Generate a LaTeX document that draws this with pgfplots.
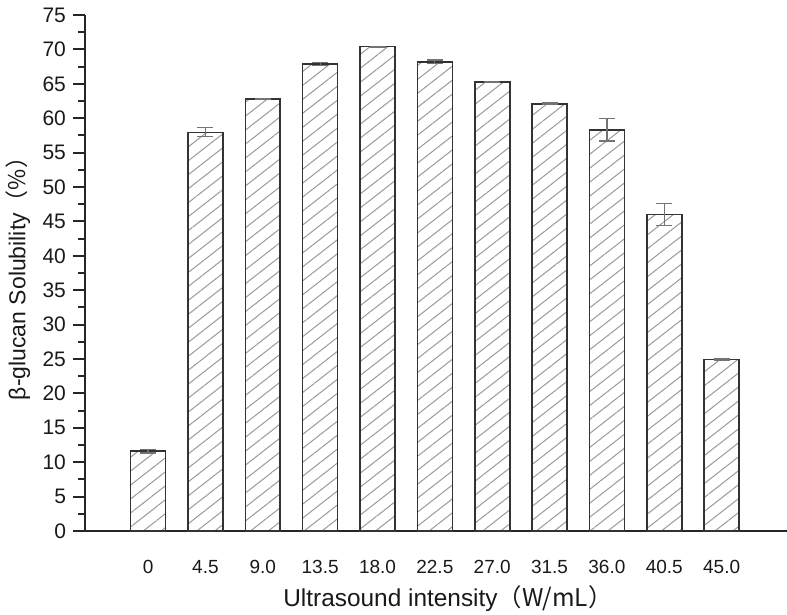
\documentclass[border=0pt]{standalone}
\usepackage{fontspec}
\setmainfont{Liberation Sans}
\newfontfamily\cjk{Noto Sans CJK SC}
\usepackage{pgfplots}
\pgfplotsset{compat=1.18}
\usetikzlibrary{patterns.meta}
\begin{document}
\begin{tikzpicture}
\begin{axis}[
  name=ax,
  scale only axis,
  width=351pt, height=258pt,
  xmin=-1.1, xmax=11.14,
  ymin=0, ymax=75,
  axis x line=bottom, axis y line=left,
  axis line style={-, line width=1pt, black!85},
  ytick={0,5,...,75},
  minor y tick num=1,
  tick align=outside,
  major tick length=6pt, minor tick length=3.5pt,
  every tick/.style={line width=1pt, black!85},
  xtick={0,...,10},
  xticklabels={0,4.5,9.0,13.5,18.0,22.5,27.0,31.5,36.0,40.5,45.0},
  xtick style={draw=none},
  xticklabel style={font=\fontsize{9.5}{11}\selectfont, yshift=-5pt, text=black!90},
  yticklabel style={font=\fontsize{10.5}{12}\selectfont, text=black!90},
  /pgf/number format/assume math mode=true,
  xlabel={Ultrasound intensity\cjk{（}W/mL\cjk{）}},
  ylabel={β-glucan Solubility\cjk{（}\%\cjk{）}},
  xlabel style={font=\fontsize{12.2}{14}\selectfont, at={(axis description cs:0.517,0)}, anchor=base, yshift=-38pt, text=black!90},
  ylabel style={font=\fontsize{11.5}{13}\selectfont, at={(axis description cs:0,0.5)}, anchor=center, yshift=33.5pt, text=black!90},
  ybar, bar width=0.61,
  clip=false,
]
\addplot[
  draw=black!80, line width=0.8pt,
  pattern={Lines[angle=38, distance=5.5pt, line width=0.5pt]},
  pattern color=black!40,
  error bars/.cd, y dir=both, y explicit,
  error bar style={black!55, line width=0.6pt},
  error mark options={rotate=90, mark size=4pt, black!55, line width=0.6pt},
] table[x=x, y=y, y error=e] {
x y e
0 11.6 0.25
1 57.95 0.65
2 62.8 0.1
3 67.9 0.2
4 70.4 0.05
5 68.2 0.25
6 65.3 0.05
7 62.1 0.1
8 58.3 1.6
9 46.0 1.65
10 24.9 0.1
};
\end{axis}
\pgfresetboundingbox
\path[use as bounding box] ([xshift=-42.5pt,yshift=-42pt]ax.south west) rectangle ([yshift=7.5pt]ax.north east);
\end{tikzpicture}
\end{document}
